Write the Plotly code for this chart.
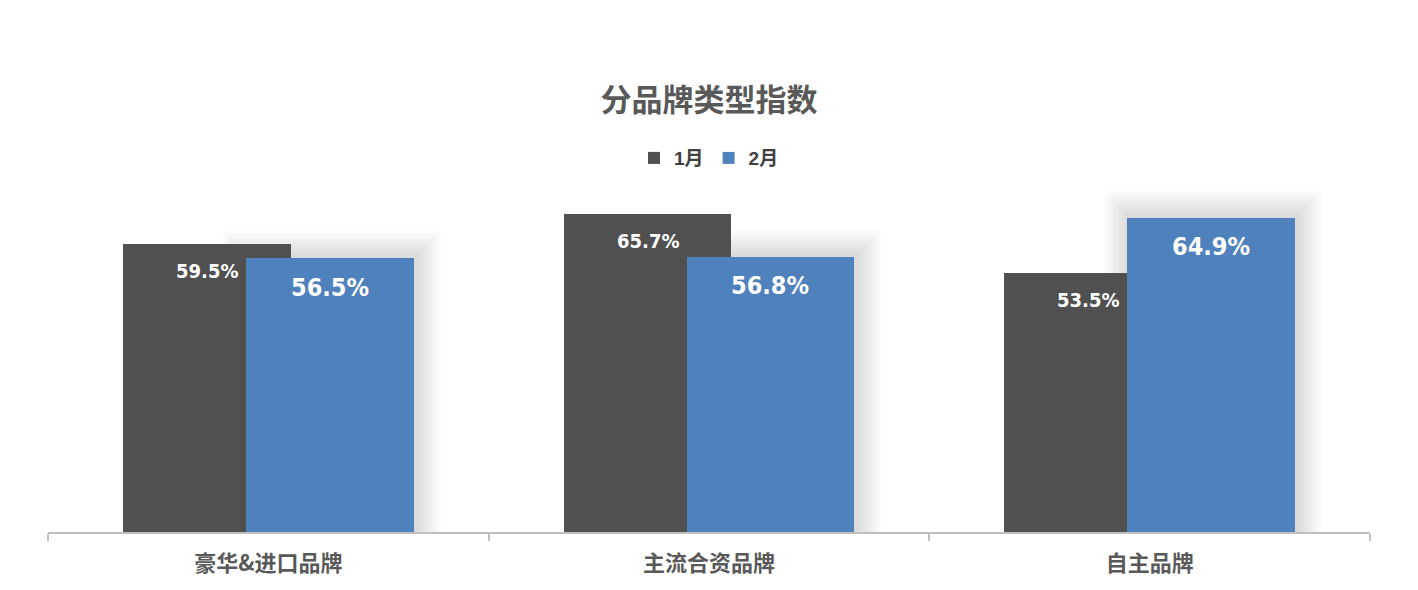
import plotly.graph_objects as go

categories = ["豪华&进口品牌", "主流合资品牌", "自主品牌"]
series_names = ["1月", "2月"]
jan_values = [59.5, 65.7, 53.5]
feb_values = [56.5, 56.8, 64.9]

colors = ["#505050", "#4F81BD"]
x = list(range(len(categories)))

fig = go.Figure()
bar_w = 0.381
offsets = [-0.330, -0.051]

YMAX = 76
PLOT_H = 339 * YMAX / 70
px_x = 1 / 440.7
px_y = YMAX / PLOT_H

# soft glow behind the 2月 bars (drawn first)
N = 18
for k in range(N, 0, -1):
    grow = 1.4 * k
    fig.add_trace(go.Bar(
        x=x, y=[v + (grow + 2) * px_y for v in feb_values],
        width=bar_w + 2 * grow * px_x, offset=offsets[1] - grow * px_x + 2 * px_x,
        marker=dict(color="black", opacity=0.009, line=dict(width=0)),
        showlegend=False, hoverinfo="skip",
    ))

for name, vals, col, off in zip(series_names, [jan_values, feb_values], colors, offsets):
    fig.add_trace(go.Bar(
        x=x, y=vals, name=name, marker=dict(color=col, line=dict(width=0)),
        width=bar_w, offset=off,
    ))

ann = []
label_sizes = [20, 25]
yshifts = [-27, -29]
for vals, off, fs, ys in zip([jan_values, feb_values], offsets, label_sizes, yshifts):
    for xi, v in zip(x, vals):
        ann.append(dict(
            x=xi + off + bar_w / 2, y=v, xref="x", yref="y", text=f"{v:.1f}%",
            showarrow=False, yshift=ys,
            font=dict(family="DejaVu Sans Condensed", size=fs, color="white", weight="bold"),
        ))

H = 590
B = 66
T = H - B - PLOT_H
fig.update_layout(
    width=1418, height=H,
    paper_bgcolor="white", plot_bgcolor="white",
    barmode="overlay", bargap=0,
    margin=dict(l=40, r=56, t=T, b=B),
    title=dict(text="分品牌类型指数", x=0.5, xref="paper", xanchor="center", y=1 - 92 / H, yanchor="middle",
               font=dict(family="Noto Sans CJK SC", size=31, color="#595959", weight="bold")),
    legend=dict(orientation="h", x=0.5, xanchor="center", y=1 + (T - 150) / PLOT_H, yanchor="middle",
                font=dict(family="Liberation Sans, Noto Sans CJK SC", size=19, color="#404040", weight="bold"),
                itemwidth=30, traceorder="normal"),
    annotations=ann,
    showlegend=True,
)
fig.update_xaxes(
    range=[-0.5, 2.5], tickvals=x, ticktext=categories, ticks="",
    showline=True, linecolor="#BFBFBF", linewidth=2, showgrid=False, zeroline=False,
    tickfont=dict(family="Noto Sans CJK SC", size=22, color="#595959", weight="bold"),
    minor=dict(tick0=-0.5, dtick=1, ticks="outside", ticklen=7, tickcolor="#BFBFBF", tickwidth=2, showgrid=False),
    ticklabelstandoff=11,
)
fig.update_yaxes(range=[0, YMAX], visible=False, showgrid=False, zeroline=False)

fig.write_html("out.html")
